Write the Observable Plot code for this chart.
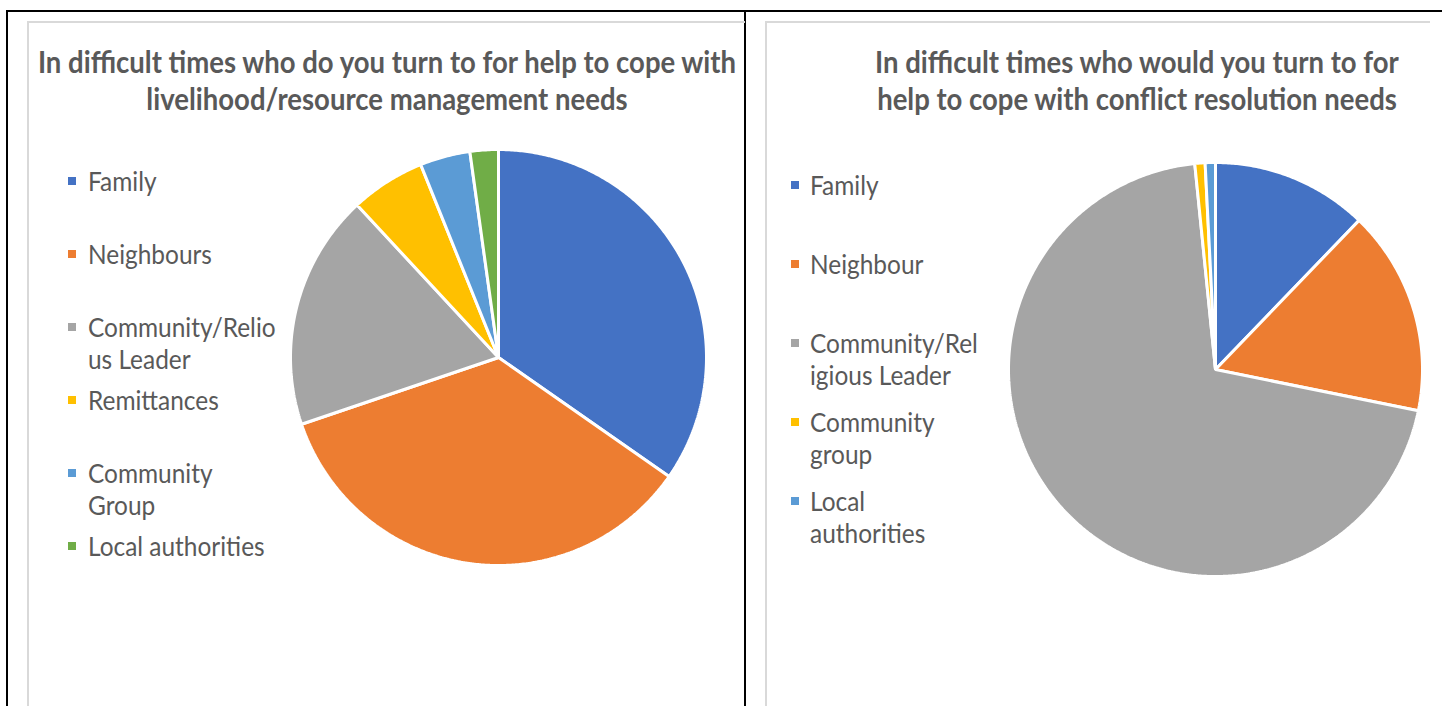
<!DOCTYPE html>
<html><head><meta charset="utf-8">
<script src="https://cdn.jsdelivr.net/npm/d3@7"></script>
<script src="https://cdn.jsdelivr.net/npm/@observablehq/plot@0.6"></script>
<style>
html,body{margin:0;padding:0;background:#fff;}
body{width:1442px;height:706px;overflow:hidden;position:relative;font-family:Lato,"Open Sans",sans-serif;}
.abs{position:absolute;}
.title{position:absolute;font-weight:700;color:#595959;white-space:nowrap;text-align:center;}
.leg{position:absolute;color:#595959;white-space:nowrap;transform-origin:0 50%;}
</style></head><body>
<script>
// ---- data ----
const leftTitle = ["In difficult times who do you turn to for help to cope with", "livelihood/resource management needs"];
const leftCategories = ["Family", "Neighbours", "Community/Relious Leader", "Remittances", "Community Group", "Local authorities"];
const leftValues = [34.7, 35.1, 18.3, 5.8, 3.9, 2.2];
const leftLegendLines = [["Family"], ["Neighbours"], ["Community/Relio", "us Leader"], ["Remittances"], ["Community", "Group"], ["Local authorities"]];
const leftColors = ["#4472C4", "#ED7D31", "#A5A5A5", "#FFC000", "#5B9BD5", "#70AD47"];

const rightTitle = ["In difficult times who would you turn to for", "help to cope with conflict resolution needs"];
const rightCategories = ["Family", "Neighbour", "Community/Religious Leader", "Community group", "Local authorities"];
const rightValues = [12.2, 16.0, 70.2, 0.8, 0.8];
const rightLegendLines = [["Family"], ["Neighbour"], ["Community/Rel", "igious Leader"], ["Community", "group"], ["Local", "authorities"]];
const rightColors = ["#4472C4", "#ED7D31", "#A5A5A5", "#FFC000", "#5B9BD5"];

// ---- helpers ----
const body = document.body;
function box(css){ const d = document.createElement("div"); d.className = "abs"; Object.assign(d.style, css); body.appendChild(d); return d; }
const ctx = document.createElement("canvas").getContext("2d");
function fitSize(text, weight, target){ ctx.font = `${weight} 100px Lato, "Open Sans", sans-serif`; return 100 * target / ctx.measureText(text).width; }

// frames
box({left:"6px", top:"10px", width:"1436px", height:"2px", background:"#000"});
box({left:"6px", top:"10px", width:"2px", height:"700px", background:"#000"});
box({left:"744px", top:"10px", width:"2px", height:"700px", background:"#000"});
box({left:"27px", top:"21px", width:"716px", height:"700px", borderTop:"2px solid #d9d9d9", borderLeft:"2px solid #d9d9d9"});
box({left:"765px", top:"21px", width:"663px", height:"700px", borderTop:"2px solid #d9d9d9", borderLeft:"2px solid #d9d9d9"});

const titleStretch = 1.1, legStretch = 1.07;
const titleSize = fitSize(leftTitle[0], 700, 701) * titleStretch;
const legSize = fitSize("Neighbours", 400, 124) * legStretch;

function title(lines, cx, y0){
  lines.forEach((t, i) => {
    const d = document.createElement("div"); d.className = "title";
    d.textContent = t;
    Object.assign(d.style, {left:(cx - 500) + "px", width:"1000px", top:(y0 + 37*i - 20) + "px", fontSize:titleSize + "px", lineHeight:"40px", transform:`scaleX(${1/titleStretch})`});
    body.appendChild(d);
  });
}
function legend(lines, colors, swX, textX, y0, step){
  lines.forEach((ls, i) => {
    const yc = y0 + step*i;
    box({left:swX + "px", top:(yc - 4) + "px", width:"8px", height:"8px", background:colors[i]});
    ls.forEach((t, j) => {
      const d = document.createElement("div"); d.className = "leg"; d.textContent = t;
      Object.assign(d.style, {left:textX + "px", top:(yc + 32*j - 16) + "px", fontSize:legSize + "px", lineHeight:"32px", transform:`scaleX(${1/legStretch})`});
      body.appendChild(d);
    });
  });
}
function pie(categories, values, colors, r){
  const arcs = d3.pie().sort(null).value(d => d)(values);
  const features = arcs.map((a, i) => {
    const n = Math.max(2, Math.ceil((a.endAngle - a.startAngle) / (Math.PI / 360)));
    const ring = [[0, 0]];
    for (let k = 0; k <= n; k++) { const t = a.startAngle + (a.endAngle - a.startAngle) * k / n; ring.push([Math.sin(t), Math.cos(t)]); }
    ring.push([0, 0]);
    return {type:"Feature", properties:{category:categories[i], value:values[i]}, geometry:{type:"Polygon", coordinates:[ring]}};
  });
  const outline = {type:"Polygon", coordinates:[d3.range(0, 361, 2).map(d => [Math.sin(d*Math.PI/180), Math.cos(d*Math.PI/180)])]};
  const pad = 4, size = 2*r + 2*pad;
  return Plot.plot({
    width:size, height:size, margin:0,
    projection:{type:"reflect-y", domain:outline, inset:pad},
    color:{domain:categories, range:colors},
    marks:[Plot.geo(features, {fill:d => d.properties.category, stroke:"white", strokeWidth:3, strokeLinejoin:"miter", title:d => d.properties.category})]
  });
}
function place(el, cx, cy, r){
  const s = r + 4;
  el.style.position = "absolute"; el.style.left = (cx - s) + "px"; el.style.top = (cy - s) + "px";
  body.appendChild(el);
}

title(leftTitle, 386.5, 61);
title(rightTitle, 1137, 61);
legend(leftLegendLines, leftColors, 68, 88, 181, 73);
legend(rightLegendLines, rightColors, 791, 810, 185, 79);
place(pie(leftCategories, leftValues, leftColors, 208), 498, 357, 208);
place(pie(rightCategories, rightValues, rightColors, 207), 1215, 369, 207);
</script>
</body></html>
